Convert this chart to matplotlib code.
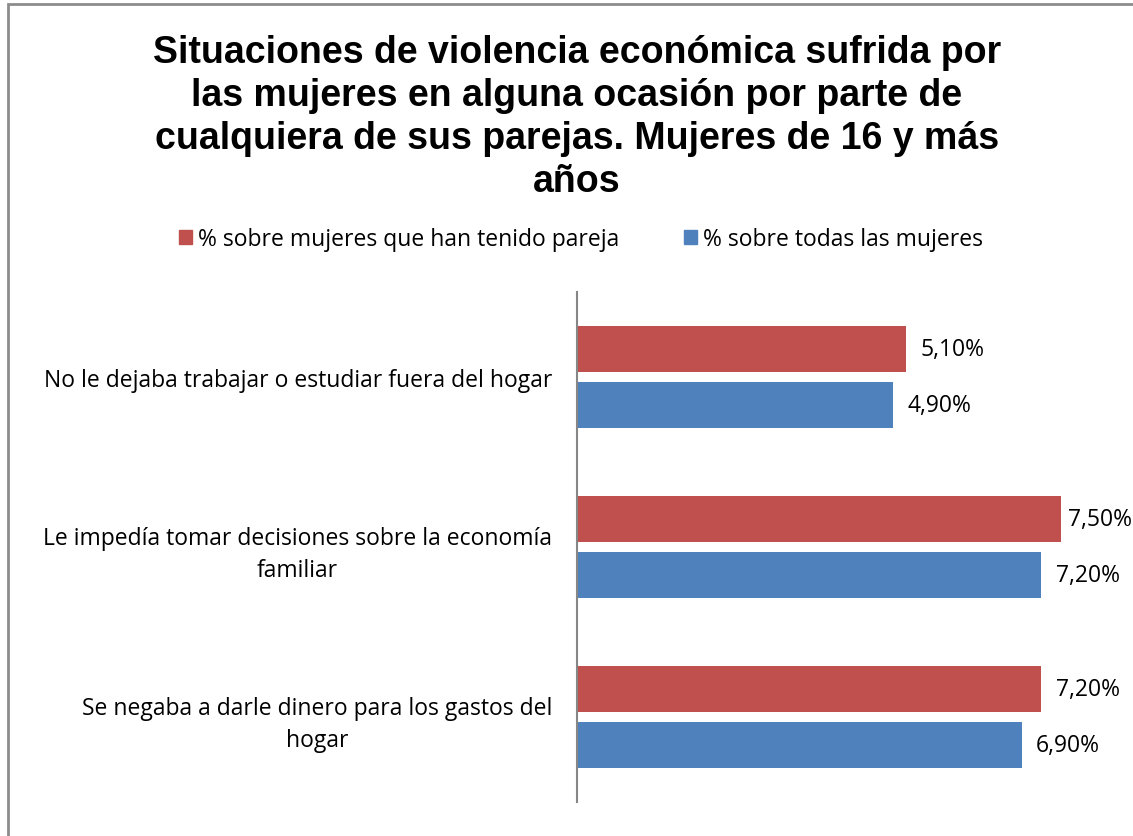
import matplotlib
matplotlib.use("Agg")
import matplotlib.pyplot as plt
from matplotlib.patches import Patch, Rectangle

# Data
categories = [
    "No le dejaba trabajar o estudiar fuera del hogar",
    "Le impedía tomar decisiones sobre la economía\nfamiliar",
    "Se negaba a darle dinero para los gastos del\nhogar",
]
pct_pareja = [5.10, 7.50, 7.20]
pct_todas = [4.90, 7.20, 6.90]
series_names = ["% sobre mujeres que han tenido pareja", "% sobre todas las mujeres"]
title = ("Situaciones de violencia económica sufrida por\n"
         "las mujeres en alguna ocasión por parte de\n"
         "cualquiera de sus parejas. Mujeres de 16 y más\n"
         "años")

c_red = "#C0504D"
c_blue = "#4F81BD"
c_axis = "#868686"
label_font = ["Open Sans", "DejaVu Sans"]
fs = 16.5

W, H = 1133, 837
fig = plt.figure(figsize=(W / 100, H / 100), dpi=100)

# Outer chart frame (only top/left edges visible)
fig.patches.append(Rectangle((8 / W, -0.1), 1.2, 1 - 5 / H + 0.1, transform=fig.transFigure,
                             fill=False, edgecolor="#8C8C8C", linewidth=2))

# Plot area
ax_left, ax_top, ax_bottom = 577, 293, 803
xmax = 8.5
px_per_pct = 64.5
ax = fig.add_axes([ax_left / W, 1 - ax_bottom / H,
                   xmax * px_per_pct / W, (ax_bottom - ax_top) / H])

y = list(range(len(categories)))
off, h = 0.165, 0.267
ax.barh([v - off for v in y], pct_pareja, height=h, color=c_red, label=series_names[0])
ax.barh([v + off for v in y], pct_todas, height=h, color=c_blue, label=series_names[1])

# value labels; pushed back inside the chart area when too close to the edge
label_limit = 7.61
for vals, dy in [(pct_pareja, -off), (pct_todas, off)]:
    for yi, v in zip(y, vals):
        ax.text(min(v + 0.22, label_limit), yi + dy, f"{v:.2f}%".replace(".", ","),
                va="center", ha="left", fontsize=fs, family=label_font, color="black")

ax.set_xlim(0, xmax)
ax.set_ylim(len(categories) - 0.5, -0.5)
ax.set_xticks([])
ax.set_yticks(y)
ax.set_yticklabels(categories, fontsize=fs, family=label_font,
                   multialignment="center", linespacing=1.45)
ax.tick_params(axis="y", length=0, pad=18)
for s in ["top", "right", "bottom"]:
    ax.spines[s].set_visible(False)
ax.spines["left"].set_color(c_axis)
ax.spines["left"].set_linewidth(1.5)

fig.text(577 / W, 1 - 35 / H, title, ha="center", va="top", fontsize=27,
         fontweight="bold", family="Liberation Sans", linespacing=1.25)

handles = [Patch(color=c_red), Patch(color=c_blue)]
fig.legend(handles, series_names, loc="center", bbox_to_anchor=(581 / W, 1 - 240 / H),
           ncol=2, frameon=False, handlelength=0.57, handleheight=0.57, handletextpad=0.28,
           columnspacing=2.8, prop={"family": label_font, "size": fs})

plt.savefig("out.png", dpi=100)
